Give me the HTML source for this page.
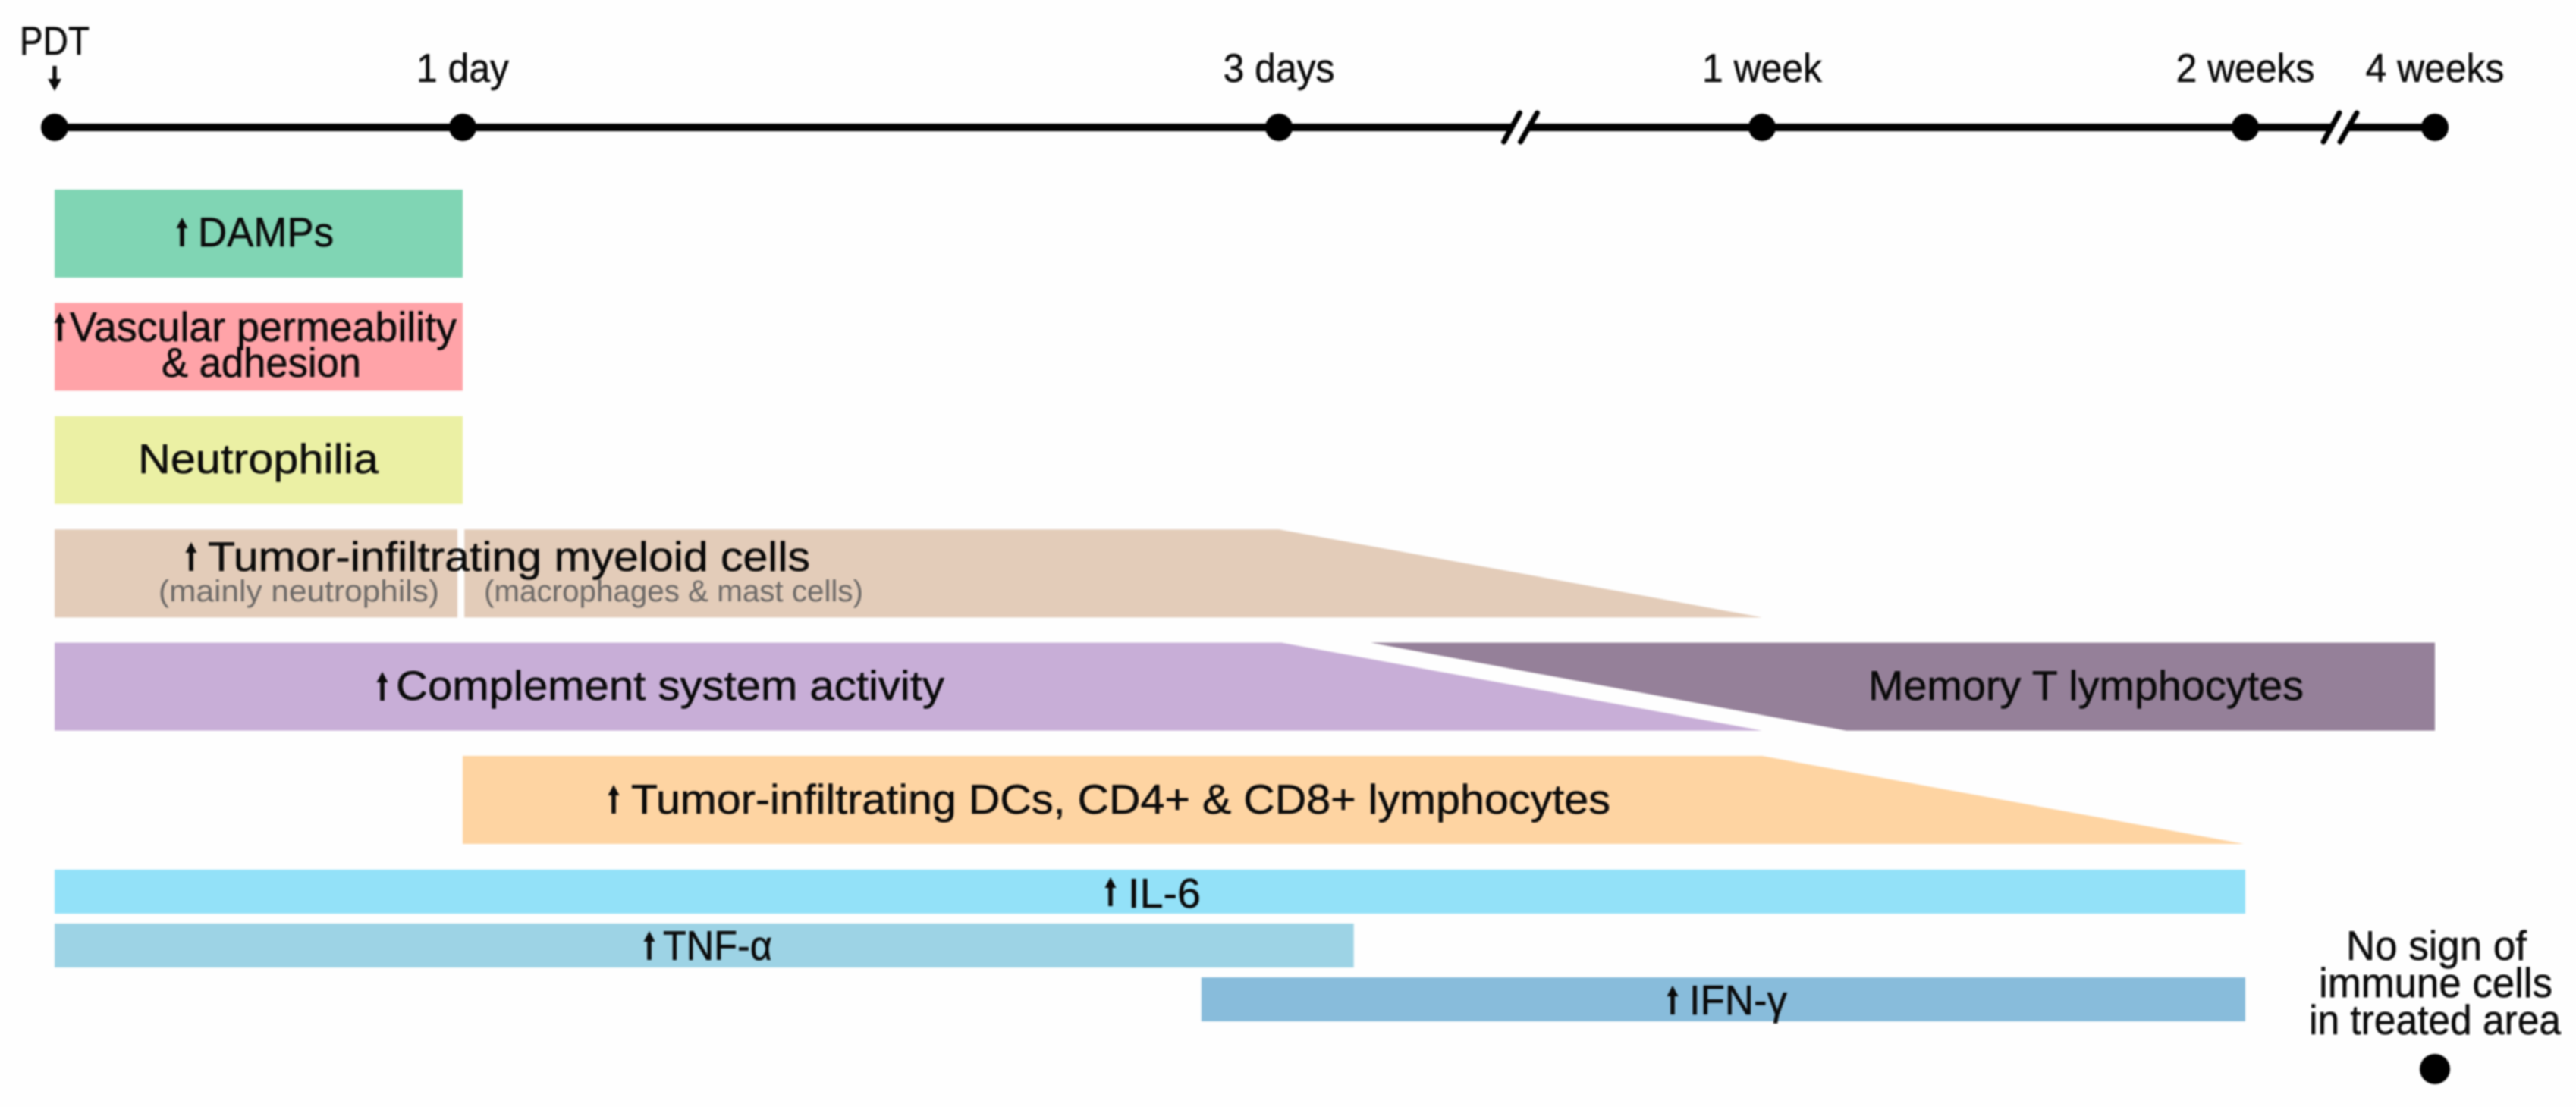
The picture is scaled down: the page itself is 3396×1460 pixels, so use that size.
<!DOCTYPE html>
<html lang="en">
<head>
<meta charset="utf-8">
<title>Immune response timeline after PDT</title>
<style>
html,body{margin:0;padding:0;background:#fefefe;width:3396px;height:1460px;overflow:hidden}
svg{display:block;filter:blur(1px)}
text{font-family:"Liberation Sans",sans-serif;fill:#0a0a0a;stroke:#0a0a0a;stroke-width:0.5px;font-size:55px}
.sub{font-size:40px;fill:#6b6866;stroke:none}
.band-damps{fill:#80d5b4}
.band-vascular-permeability{fill:#ffa3a8}
.band-neutrophilia{fill:#ebf0a4}
.band-myeloid-early,.band-myeloid-late{fill:#e3ccb9}
.band-complement{fill:#c8aed7}
.band-memory-t{fill:#958099}
.band-dc-lymphocytes{fill:#fed4a2}
.band-il-6{fill:#93e1f8}
.band-tnf-alpha{fill:#9dd3e5}
.band-ifn-gamma{fill:#88bcdb}
</style>
</head>
<body>
<svg id="chart" xmlns="http://www.w3.org/2000/svg" width="3396" height="1460" viewBox="0 0 3396 1460">
  <defs>
    <path id="up-arrow" d="M-2.8 38V14H-7.5L0 0L7.5 14H2.8V38Z" fill="#0a0a0a"/>
  </defs>
  <g id="bands"></g>
  <g id="axis"></g>

  <path d="M69.2 87H74.8V104H81L72 120L63 104H69.2Z" fill="#0a0a0a"/>

  <use href="#up-arrow" x="240" y="287"/>
  <text x="261" y="325" textLength="179" lengthAdjust="spacingAndGlyphs">DAMPs</text>

  <use href="#up-arrow" x="79" y="412"/>
  <text x="92" y="450" textLength="510" lengthAdjust="spacingAndGlyphs">Vascular permeability</text>
  <text x="213" y="497" textLength="263" lengthAdjust="spacingAndGlyphs">&amp; adhesion</text>

  <text x="182" y="624" textLength="317" lengthAdjust="spacingAndGlyphs">Neutrophilia</text>

  <use href="#up-arrow" x="252" y="715"/>
  <text x="274" y="753" textLength="794" lengthAdjust="spacingAndGlyphs">Tumor-infiltrating myeloid cells</text>
  <text class="sub" x="209" y="793" textLength="370" lengthAdjust="spacingAndGlyphs">(mainly neutrophils)</text>
  <text class="sub" x="638" y="793" textLength="500" lengthAdjust="spacingAndGlyphs">(macrophages &amp; mast cells)</text>

  <use href="#up-arrow" x="504" y="886"/>
  <text x="522" y="923" textLength="723" lengthAdjust="spacingAndGlyphs">Complement system activity</text>

  <text x="2463" y="923" textLength="574" lengthAdjust="spacingAndGlyphs">Memory T lymphocytes</text>

  <use href="#up-arrow" x="809" y="1035"/>
  <text x="832" y="1073" textLength="1291" lengthAdjust="spacingAndGlyphs">Tumor-infiltrating DCs, CD4+ &amp; CD8+ lymphocytes</text>

  <use href="#up-arrow" x="1464" y="1157"/>
  <text x="1487" y="1197" textLength="96" lengthAdjust="spacingAndGlyphs">IL-6</text>

  <use href="#up-arrow" x="856" y="1228"/>
  <text x="874" y="1266" textLength="144" lengthAdjust="spacingAndGlyphs">TNF-α</text>

  <use href="#up-arrow" x="2205" y="1300"/>
  <text x="2227" y="1338" textLength="129" lengthAdjust="spacingAndGlyphs">IFN-γ</text>

  <text x="3093" y="1266" textLength="238" lengthAdjust="spacingAndGlyphs">No sign of</text>
  <text x="3057" y="1315" textLength="308" lengthAdjust="spacingAndGlyphs">immune cells</text>
  <text x="3044" y="1364" textLength="332" lengthAdjust="spacingAndGlyphs">in treated area</text>
</svg>
<script>
// Time points on the axis (days after PDT)
const tickDays = [0, 1, 3, 7, 14, 28];
const tickLabels = ['PDT', '1 day', '3 days', '1 week', '2 weeks', '4 weeks'];
const breakDays = [5, 21];
const endPointDay = [28];

// Response bands, in days after PDT
const bandNames = ['damps', 'vascular-permeability', 'neutrophilia', 'myeloid-early', 'myeloid-late', 'complement', 'memory-t', 'dc-lymphocytes', 'il-6', 'tnf-alpha', 'ifn-gamma'];
const bandRows = [0, 1, 2, 3, 3, 4, 4, 5, 6, 7, 8];
const bandStartTop = [0, 0, 0, 0, 1.004, 0, 3.76, 1, 0, 0, 2.81];
const bandStartBottom = [0, 0, 0, 0, 1.004, 0, 8.22, 1, 0, 0, 2.81];
const bandPlateauEnd = [1, 1, 1, 0.987, 3, 3.02, 28, 7.0, 14, 3.62, 14];
const bandFinalEnd = [1, 1, 1, 0.987, 7, 7, 28, 13.98, 14, 3.62, 14];

const SVG_NS = 'http://www.w3.org/2000/svg';

// Piecewise (broken) time axis
function xScale(day) {
  const domain = [0, 1, 3, 7, 14, 28];
  const range = [72, 610, 1686, 2323, 2960, 3210];
  let i = 0;
  while (i < domain.length - 2 && day > domain[i + 1]) i++;
  const t = (day - domain[i]) / (domain[i + 1] - domain[i]);
  return range[i] + t * (range[i + 1] - range[i]);
}
// Category rows: six tall rows followed by three cytokine rows
function rowTop(row) {
  return row < 6 ? 250 + 149.4 * row : 1147 + 71 * (row - 6);
}
function rowHeight(row) {
  return row < 6 ? 116 : 58;
}

const bandsGroup = document.getElementById('bands');
bandNames.forEach(function (name, i) {
  const top = rowTop(bandRows[i]);
  const bottom = top + rowHeight(bandRows[i]);
  const points = [
    [xScale(bandStartTop[i]), top],
    [xScale(bandPlateauEnd[i]), top],
    [xScale(bandFinalEnd[i]), bottom],
    [xScale(bandStartBottom[i]), bottom]
  ].map(function (p) { return p[0].toFixed(1) + ',' + p[1].toFixed(1); }).join(' ');
  const el = document.createElementNS(SVG_NS, 'polygon');
  el.setAttribute('points', points);
  el.setAttribute('class', 'band-' + name);
  
  
  bandsGroup.appendChild(el);
});

const axisGroup = document.getElementById('axis');
const axisY = 168;

const axisLine = document.createElementNS(SVG_NS, 'line');
axisLine.setAttribute('x1', xScale(tickDays[0]));
axisLine.setAttribute('x2', xScale(tickDays[tickDays.length - 1]));
axisLine.setAttribute('y1', axisY);
axisLine.setAttribute('y2', axisY);
axisLine.setAttribute('stroke', '#000');
axisLine.setAttribute('stroke-width', '10');


axisGroup.appendChild(axisLine);

breakDays.forEach(function (day) {
  const c = xScale(day);
  const gap = document.createElementNS(SVG_NS, 'polygon');
  gap.setAttribute('points', (c - 22) + ',188 ' + (c - 1) + ',148 ' + (c + 22) + ',148 ' + c + ',188');
  gap.setAttribute('fill', '#fefefe');
  
  
  axisGroup.appendChild(gap);
  [[-22, -1], [0, 22]].forEach(function (off) {
    const slash = document.createElementNS(SVG_NS, 'line');
    slash.setAttribute('x1', c + off[0]);
    slash.setAttribute('y1', 187);
    slash.setAttribute('x2', c + off[1]);
    slash.setAttribute('y2', 149);
    slash.setAttribute('stroke', '#000');
    slash.setAttribute('stroke-width', '7');
    slash.setAttribute('stroke-linecap', 'round');
    
    
    axisGroup.appendChild(slash);
  });
});

tickDays.forEach(function (day, i) {
  const dot = document.createElementNS(SVG_NS, 'circle');
  dot.setAttribute('cx', xScale(day));
  dot.setAttribute('cy', axisY);
  dot.setAttribute('r', 18);
  dot.setAttribute('fill', '#000');
  
  
  axisGroup.appendChild(dot);

  const label = document.createElementNS(SVG_NS, 'text');
  label.setAttribute('x', xScale(day));
  label.setAttribute('y', i === 0 ? 72 : 108);
  label.setAttribute('text-anchor', 'middle');
  label.style.fontSize = '53px';
  label.textContent = tickLabels[i];
  
  
  axisGroup.appendChild(label);
  const squeeze = i === 0 ? 0.87 : 0.94;
  label.setAttribute('textLength', (label.getComputedTextLength() * squeeze).toFixed(1));
  label.setAttribute('lengthAdjust', 'spacingAndGlyphs');
});

endPointDay.forEach(function (day) {
  const endDot = document.createElementNS(SVG_NS, 'circle');
  endDot.setAttribute('cx', xScale(day));
  endDot.setAttribute('cy', 1410);
  endDot.setAttribute('r', 20);
  endDot.setAttribute('fill', '#000');
  
  
  axisGroup.appendChild(endDot);
});
</script>
</body>
</html>
